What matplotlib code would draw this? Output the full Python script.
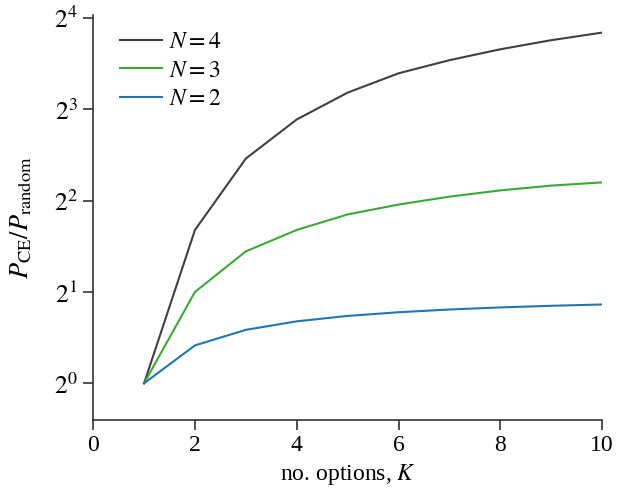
import math
import matplotlib
matplotlib.use('Agg')
import matplotlib.pyplot as plt
from matplotlib.ticker import FixedLocator, FuncFormatter

plt.rcParams['font.family'] = ['Liberation Serif', 'DejaVu Serif']
plt.rcParams['mathtext.fontset'] = 'stix'

K = [1, 2, 3, 4, 5, 6, 7, 8, 9, 10]
ratio_n4 = [1.0, 3.2, 5.5, 7.4, 9.07, 10.5, 11.6, 12.6, 13.5, 14.3]
ratio_n3 = [1.0, 2.0, 2.72, 3.2, 3.6, 3.88, 4.12, 4.32, 4.48, 4.59]
ratio_n2 = [1.0, 1.333, 1.5, 1.6, 1.667, 1.714, 1.75, 1.778, 1.8, 1.818]
y_exponents = [0, 1, 2, 3, 4]
x_ticks = [0, 2, 4, 6, 8, 10]

fig = plt.figure(figsize=(6.17, 5.01), dpi=100)
ax = fig.add_axes([0.151, 0.162, 0.825, 0.808])

ax.plot(K, ratio_n4, color='#404040', lw=1.5, label='$N = 4$')
ax.plot(K, ratio_n3, color='#3aaa35', lw=1.5, label='$N = 3$')
ax.plot(K, ratio_n2, color='#1f77b4', lw=1.5, label='$N = 2$')

ax.set_yscale('log', base=2)
ax.set_ylim(2 ** -0.4, 2 ** 4.03)
ax.set_xlim(0, 10)
ax.yaxis.set_major_locator(FixedLocator([2 ** e for e in y_exponents]))
ax.yaxis.set_minor_locator(FixedLocator([]))
ax.yaxis.set_major_formatter(FuncFormatter(lambda v, p: '$2^{%d}$' % round(math.log2(v))))
ax.set_xticks(x_ticks)

for s in ['top', 'right']:
    ax.spines[s].set_visible(False)
for s in ['left', 'bottom']:
    ax.spines[s].set_color('#333333')
    ax.spines[s].set_linewidth(1.2)
ax.tick_params(axis='both', length=7.5, width=1.2, color='#333333', direction='out')
ax.tick_params(axis='x', labelsize=17)
ax.tick_params(axis='y', labelsize=18.5)

ax.set_xlabel('no. options, $K$', fontsize=17)
ax.set_ylabel('$P_{\\rm CE}/P_{\\rm random}$', fontsize=19, labelpad=14)

ax.legend(loc='upper left', frameon=False, fontsize=17, handlelength=1.8,
          handletextpad=0.3, borderaxespad=0.3, labelspacing=0.3,
          bbox_to_anchor=(0.02, 1.0))

fig.savefig('out.png', dpi=100)
